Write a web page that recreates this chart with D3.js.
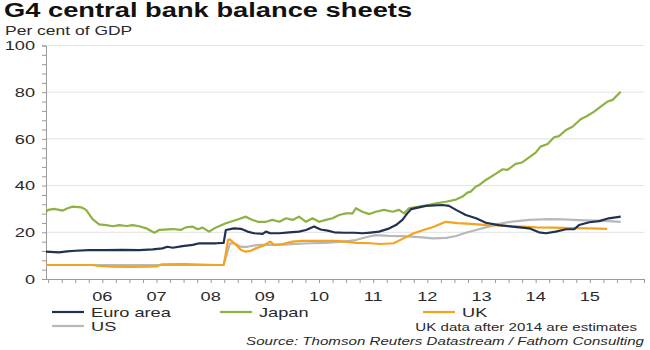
<!DOCTYPE html>
<html><head><meta charset="utf-8">
<script src="https://cdn.jsdelivr.net/npm/d3@7/dist/d3.min.js"></script>
<style>body{margin:0;background:#fff}svg{display:block}</style>
</head><body><svg id="chart" width="650" height="350"></svg>
<script>
// ---- data (decimal year, per cent of GDP) ----
const yearLabels = ["06","07","08","09","10","11","12","13","14","15"];
const yearPositions = [2006.5,2007.5,2008.5,2009.5,2010.5,2011.5,2012.5,2013.5,2014.5,2015.5];
const yTickValues = [0,20,40,60,80,100];
const seriesNames = ["Euro area","Japan","UK","US"];
const seriesColors = ["#1f3350","#8db243","#f3a31d","#b8b8b8"];

const euroArea = [[2005.46,11.7],[2005.7,11.4],[2005.85,11.8],[2006.0,12.1],[2006.25,12.4],[2006.56,12.4],[2006.87,12.5],[2007.18,12.4],[2007.43,12.7],[2007.61,13.1],[2007.70,13.8],[2007.80,13.4],[2007.98,14.1],[2008.17,14.6],[2008.29,15.3],[2008.47,15.3],[2008.60,15.3],[2008.74,15.5],[2008.78,21.0],[2008.93,21.7],[2009.06,21.5],[2009.18,20.3],[2009.30,19.6],[2009.46,19.3],[2009.52,20.3],[2009.6,19.6],[2009.77,19.6],[2009.95,20.0],[2010.13,20.3],[2010.26,21.0],[2010.41,22.5],[2010.53,21.2],[2010.66,20.7],[2010.78,20.0],[2010.96,19.8],[2011.15,19.8],[2011.3,19.6],[2011.45,19.9],[2011.61,20.3],[2011.80,21.7],[2011.92,23.1],[2012.04,25.3],[2012.13,28.1],[2012.20,29.9],[2012.47,31.3],[2012.78,31.7],[2012.90,31.3],[2013.03,29.6],[2013.21,27.4],[2013.40,26.0],[2013.58,24.1],[2013.82,23.1],[2014.07,22.4],[2014.38,21.7],[2014.56,20.0],[2014.69,19.6],[2014.87,20.3],[2015.06,21.3],[2015.21,21.3],[2015.30,23.1],[2015.49,24.3],[2015.67,24.8],[2015.85,26.0],[2016.07,26.7]];

const japan = [[2005.46,28.8],[2005.5,29.6],[2005.61,30.0],[2005.77,29.3],[2005.86,30.3],[2005.95,31.0],[2006.11,30.7],[2006.20,29.6],[2006.32,25.6],[2006.44,23.4],[2006.57,23.1],[2006.7,22.6],[2006.81,23.1],[2006.95,22.7],[2007.06,23.1],[2007.18,22.6],[2007.31,21.7],[2007.46,19.8],[2007.55,21.0],[2007.80,21.4],[2007.95,21.0],[2008.04,22.1],[2008.17,22.4],[2008.26,21.3],[2008.35,22.0],[2008.47,20.3],[2008.6,22.1],[2008.78,23.9],[2008.97,25.3],[2009.15,26.7],[2009.25,25.5],[2009.37,24.5],[2009.52,24.5],[2009.64,25.3],[2009.77,24.5],[2009.89,26.0],[2010.01,25.3],[2010.13,26.7],[2010.26,24.5],[2010.38,26.0],[2010.50,24.5],[2010.63,25.3],[2010.75,26.0],[2010.87,27.4],[2011.00,28.1],[2011.12,28.1],[2011.18,30.3],[2011.30,28.8],[2011.43,27.8],[2011.55,28.8],[2011.70,29.6],[2011.86,28.8],[2011.98,29.6],[2012.07,28.1],[2012.16,30.3],[2012.32,30.9],[2012.47,31.4],[2012.66,32.4],[2012.84,33.1],[2013.03,34.0],[2013.15,35.3],[2013.24,37.0],[2013.30,37.4],[2013.39,39.5],[2013.46,40.3],[2013.58,42.4],[2013.76,45.0],[2013.89,47.0],[2013.98,46.7],[2014.13,49.3],[2014.25,49.9],[2014.38,52.1],[2014.50,54.1],[2014.59,56.7],[2014.72,57.8],[2014.84,60.7],[2014.93,61.2],[2015.06,63.8],[2015.18,65.2],[2015.33,68.4],[2015.45,69.8],[2015.58,71.7],[2015.70,73.8],[2015.82,75.9],[2015.92,76.7],[2015.98,78.1],[2016.07,80.2]];

const uk = [[2005.46,6.0],[2006.3,6.0],[2006.44,5.6],[2006.7,5.3],[2007.0,5.2],[2007.3,5.3],[2007.5,5.4],[2007.6,6.3],[2008.0,6.4],[2008.3,6.2],[2008.6,6.0],[2008.74,6.0],[2008.77,9.6],[2008.82,16.7],[2008.85,17.0],[2008.90,16.0],[2008.97,14.6],[2009.06,12.4],[2009.15,11.7],[2009.24,12.1],[2009.33,13.1],[2009.46,14.1],[2009.55,15.3],[2009.60,16.0],[2009.67,14.6],[2009.83,15.0],[2010.01,16.0],[2010.2,16.3],[2010.5,16.3],[2010.8,16.3],[2010.98,16.0],[2011.2,15.5],[2011.45,15.3],[2011.63,15.0],[2011.88,15.3],[2012.06,17.4],[2012.25,19.6],[2012.43,21.0],[2012.62,22.4],[2012.84,24.5],[2013.06,23.9],[2013.30,23.6],[2013.61,23.1],[2013.92,22.8],[2014.22,22.4],[2014.52,22.1],[2014.83,22.0],[2015.15,21.8],[2015.5,21.7],[2015.82,21.5]];

const us = [[2005.46,6.0],[2008.74,6.0],[2008.80,11.0],[2008.86,15.3],[2008.93,15.3],[2009.06,13.8],[2009.18,13.8],[2009.37,14.6],[2009.55,14.6],[2009.77,14.6],[2010.0,14.9],[2010.32,15.3],[2010.63,15.5],[2010.94,16.0],[2011.18,16.7],[2011.40,18.1],[2011.55,18.8],[2011.80,18.5],[2012.04,18.4],[2012.35,17.9],[2012.6,17.4],[2012.85,17.6],[2013.03,18.4],[2013.21,19.8],[2013.40,21.0],[2013.58,22.1],[2013.82,23.6],[2014.07,24.6],[2014.38,25.3],[2014.75,25.6],[2015.0,25.5],[2015.3,25.2],[2015.6,25.0],[2015.85,24.8],[2016.07,24.5]];

const seriesData = [euroArea, japan, uk, us];
const titleText = "G4 central bank balance sheets";
const subtitleText = "Per cent of GDP";
const noteText = "UK data after 2014 are estimates";
const sourceText = "Source: Thomson Reuters Datastream / Fathom Consulting";

// ---- drawing ----
const svg = d3.select("#chart");
const FONT = "'Liberation Sans', Arial, Helvetica, sans-serif";
const SX = 1.4; // horizontal stretch of the reference image

const x = d3.scaleLinear().domain([2005.46, 2016.5]).range([46, 644]);
const y = d3.scaleLinear().domain([0, 100]).range([279, 45.5]);

function txt(px, py, s, size, anchor, extra) {
  const t = svg.append("text")
    .attr("transform", `translate(${px},${py}) scale(${SX},1)`)
    .attr("text-anchor", anchor || "start")
    .attr("font-family", FONT)
    .attr("font-size", size)
    .attr("fill", "#2a2a2a")
    .text(s);
  if (extra) extra(t);
  return t;
}

// gridlines
svg.append("g").selectAll("line").data(yTickValues.filter(v => v > 0)).join("line")
  .attr("x1", x.range()[0]).attr("x2", x.range()[1])
  .attr("y1", d => y(d)).attr("y2", d => y(d))
  .attr("stroke", "#e2e2e2").attr("stroke-width", 1);

// y axis (minor ticks every 4)
const yAxis = d3.axisLeft(y).tickValues(d3.range(0, 101, 4)).tickSize(4).tickFormat("");
svg.append("g").attr("transform", `translate(${x.range()[0]},0)`).call(yAxis)
  .call(g => g.selectAll("line,path").attr("stroke", "#9a9a9a"));

// x axis (quarterly ticks)
const xAxis = d3.axisBottom(x).tickValues(d3.range(2005.5, 2016.51, 0.25)).tickSize(4).tickSizeOuter(0).tickFormat("");
svg.append("g").attr("transform", `translate(0,${y(0)})`).call(xAxis)
  .call(g => g.selectAll("line,path").attr("stroke", "#9a9a9a"));

// y labels
yTickValues.forEach(v => txt(35, y(v) + 4.8, String(v), 13, "end"));
// x labels
yearLabels.forEach((s, i) => txt(x(yearPositions[i]), 301, s, 13, "middle"));

// lines
const line = d3.line().x(d => x(d[0])).y(d => y(d[1]));
const drawOrder = [3, 2, 1, 0];
drawOrder.forEach(i => {
  svg.append("path").datum(seriesData[i])
    .attr("d", line).attr("fill", "none")
    .attr("stroke", seriesColors[i]).attr("stroke-width", 2.2)
    .attr("stroke-linejoin", "round");
});

// title
txt(4, 17, titleText, 19.5, "start", t => t.attr("font-weight", "bold").attr("fill", "#111"));
txt(5, 35, subtitleText, 12.5, "start");

// legend
const legendPos = [[52, 312], [220, 312], [423, 312], [52, 326]];
seriesNames.forEach((n, i) => {
  const [lx, ly] = legendPos[i];
  svg.append("line").attr("x1", lx).attr("x2", lx + 32).attr("y1", ly).attr("y2", ly)
    .attr("stroke", seriesColors[i]).attr("stroke-width", 2.2);
  txt(lx + 39, ly + 4.6, n, 13, "start");
});

txt(637, 331, noteText, 10.8, "end");
txt(644, 345, sourceText, 10.8, "end", t => t.attr("font-style", "italic"));
</script></body></html>
